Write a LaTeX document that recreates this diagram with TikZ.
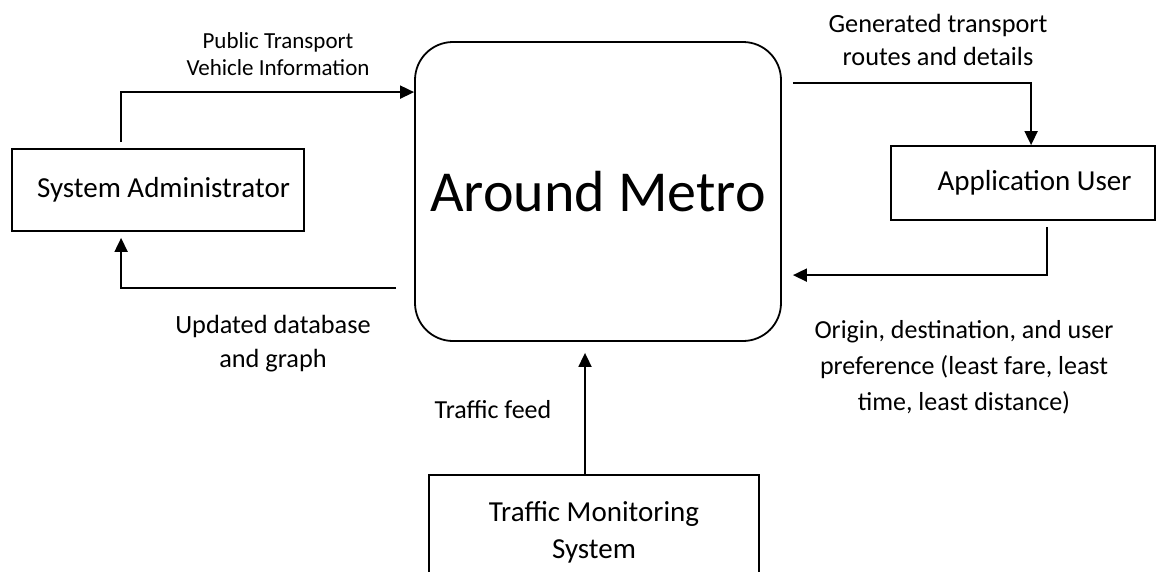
\documentclass[tikz,border=0pt]{standalone}
\usepackage{fontspec}
\setmainfont{Carlito}
\usetikzlibrary{arrows.meta,calc}
\begin{document}
\begin{tikzpicture}[x=1pt,y=-1pt,
  box/.style={draw,line width=1.8pt,inner sep=0pt},
  arr/.style={line width=1.8pt,-{Triangle[length=14pt,width=13pt]}},
  lbl/.style={inner sep=0pt,align=center,anchor=base}]
\useasboundingbox (0,0) rectangle (1156,571);
\clip (0,0) rectangle (1156,571);
% main process
\node[box,rounded corners=38pt,minimum width=366pt,minimum height=299pt,
      font=\fontsize{58}{70}\selectfont] (main) at (598,191.5) {Around Metro};
% external entities
\node[box,minimum width=292pt,minimum height=82pt,
      font=\fontsize{29}{35}\selectfont] (sa) at (158,190) {\hspace*{11pt}System Administrator};
\node[box,minimum width=264pt,minimum height=74pt,
      font=\fontsize{29}{35}\selectfont] (au) at (1023,183) {\hspace*{23pt}Application User};
\node[box,minimum width=330pt,anchor=north,inner ysep=27pt,align=center,
      font=\fontsize{29}{37}\selectfont] (tm) at (594,474) {Traffic Monitoring\\System};
% flows
\draw[arr,shorten <=6pt] ([xshift=110pt]sa.north west) |- ([yshift=-51pt]main.north west);
\draw[arr,shorten <=18pt,shorten >=6pt] ([yshift=-247pt]main.north west) -| ([xshift=110pt]sa.south west);
\draw[arr,shorten <=11pt] ([yshift=-42pt]main.north east) -| ([xshift=141pt]au.north west);
\draw[arr,shorten <=6pt,shorten >=11pt] ([xshift=157pt]au.south west) |- ([yshift=-234pt]main.north east);
\draw[arr,shorten >=11pt] ([xshift=-9pt]tm.north) -- ([xshift=-13pt]main.south);
% labels (anchored at the baseline of the last line)
\node[lbl,font=\fontsize{23}{27}\selectfont] (l1) at (278,75) {Public Transport\\Vehicle Information};
\node[lbl,font=\fontsize{26.3}{33}\selectfont] (l2) at (938,65) {Generated transport\\routes and details};
\node[lbl,font=\fontsize{26.3}{34}\selectfont] (l3) at (273,367) {Updated database\\and graph};
\node[lbl,font=\fontsize{26}{36}\selectfont] (l4) at (964,410) {Origin, destination, and user\\preference (least fare, least\\time, least distance)};
\node[lbl,font=\fontsize{26}{31}\selectfont] (l5) at (493,418) {Traffic feed};
\end{tikzpicture}
\end{document}
